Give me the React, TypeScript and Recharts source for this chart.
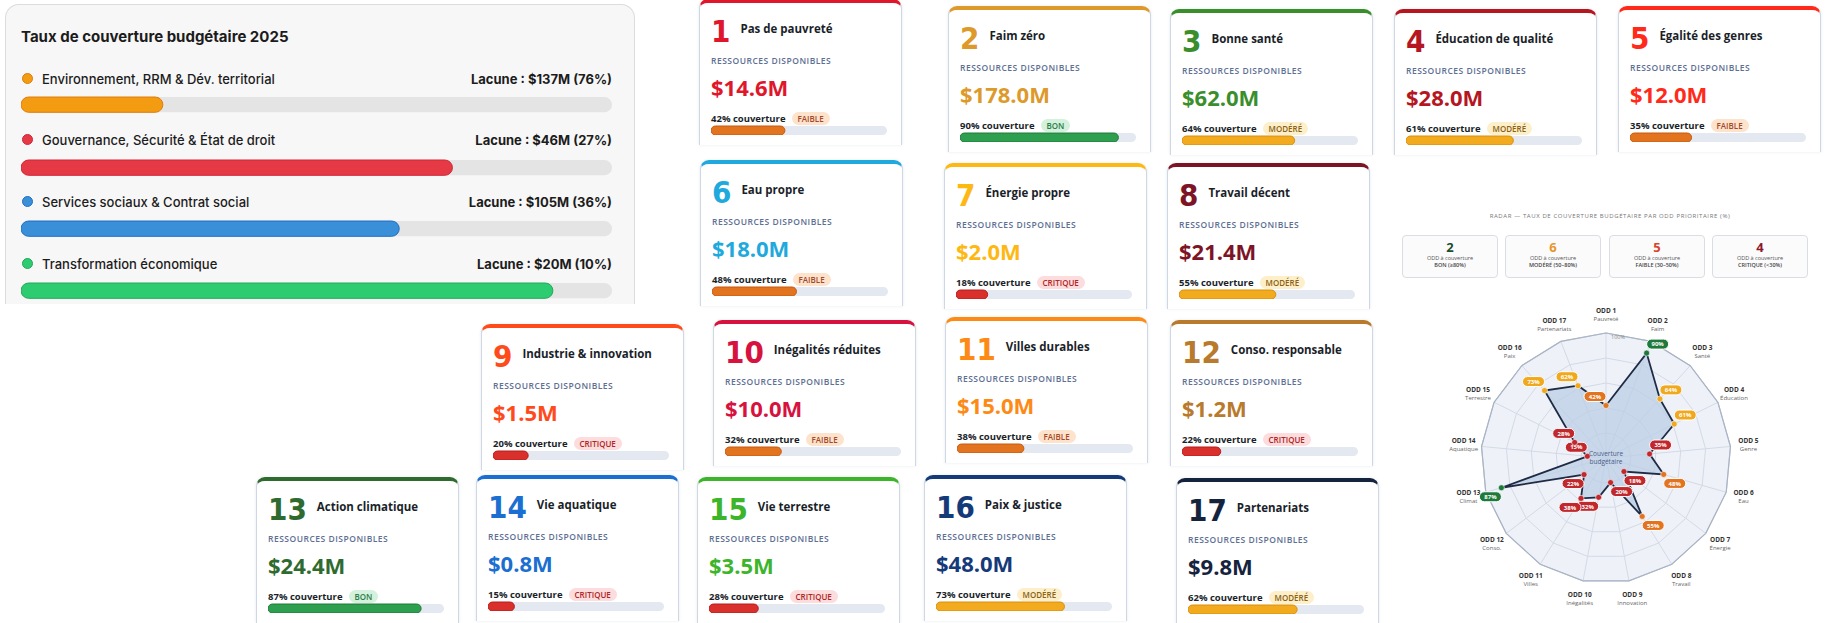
import React from 'react';
import { BarChart, Bar, XAxis, YAxis, RadarChart, Radar, PolarGrid, PolarAngleAxis, PolarRadiusAxis } from 'recharts';

// ---------- DATA ----------
const pillarNames = [
  'Environnement, RRM & Dév. territorial',
  'Gouvernance, Sécurité & État de droit',
  'Services sociaux & Contrat social',
  'Transformation économique',
];
const pillarGapLabels = ['Lacune : $137M (76%)', 'Lacune : $46M (27%)', 'Lacune : $105M (36%)', 'Lacune : $20M (10%)'];
const pillarCoverage = [24, 73, 64, 90];
const pillarColors = ['#f39c12', '#e63946', '#3a8fd9', '#2ecc71'];
const pillarStrokes = ['#e07b0a', '#cf2636', '#1f6fc2', '#1fa85a'];

const sdgNumbers = [1, 2, 3, 4, 5, 6, 7, 8, 9, 10, 11, 12, 13, 14, 15, 16, 17];
const sdgTitles = [
  'Pas de pauvreté', 'Faim zéro', 'Bonne santé', 'Éducation de qualité', 'Égalité des genres',
  'Eau propre', 'Énergie propre', 'Travail décent', 'Industrie & innovation', 'Inégalités réduites',
  'Villes durables', 'Conso. responsable', 'Action climatique', 'Vie aquatique', 'Vie terrestre',
  'Paix & justice', 'Partenariats',
];
const sdgShort = [
  'Pauvreté', 'Faim', 'Santé', 'Éducation', 'Genre', 'Eau', 'Énergie', 'Travail', 'Innovation',
  'Inégalités', 'Villes', 'Conso.', 'Climat', 'Aquatique', 'Terrestre', 'Paix', 'Partenariats',
];
const sdgResources = [
  '$14.6M', '$178.0M', '$62.0M', '$28.0M', '$12.0M', '$18.0M', '$2.0M', '$21.4M', '$1.5M',
  '$10.0M', '$15.0M', '$1.2M', '$24.4M', '$0.8M', '$3.5M', '$48.0M', '$9.8M',
];
const sdgCoverage = [42, 90, 64, 61, 35, 48, 18, 55, 20, 32, 38, 22, 87, 15, 28, 73, 62];
const sdgStatus = [
  'FAIBLE', 'BON', 'MODÉRÉ', 'MODÉRÉ', 'FAIBLE', 'FAIBLE', 'CRITIQUE', 'MODÉRÉ', 'CRITIQUE',
  'FAIBLE', 'FAIBLE', 'CRITIQUE', 'BON', 'CRITIQUE', 'CRITIQUE', 'MODÉRÉ', 'MODÉRÉ',
];
const sdgColors = [
  '#e0162b', '#dd9a2b', '#3a8f2c', '#b5161f', '#ff2a1a', '#1fa9dd', '#fdb813', '#7d1426', '#ff4a1c',
  '#d7123f', '#fd8a14', '#b87a2c', '#2f6b2f', '#1a6fd0', '#3db52b', '#153a7a', '#15233d',
];

const statCounts = ['2', '6', '5', '4'];
const statLabels = ['BON (≥80%)', 'MODÉRÉ (50–80%)', 'FAIBLE (30–50%)', 'CRITIQUE (<30%)'];
const statColors = ['#1d4d2b', '#e8962a', '#d9452b', '#8b1a2b'];

// ---------- LAYOUT / STYLES ----------
const cardLayout = [
  { x: 699, y: -1 }, { x: 948, y: 6 }, { x: 1170, y: 9 }, { x: 1394, y: 9 }, { x: 1618, y: 6 },
  { x: 700, y: 160 }, { x: 944, y: 163 }, { x: 1167, y: 163 },
  { x: 481, y: 324 }, { x: 713, y: 320 }, { x: 945, y: 317 }, { x: 1170, y: 320 },
  { x: 256, y: 477 }, { x: 476, y: 475 }, { x: 697, y: 477 }, { x: 924, y: 475 }, { x: 1176, y: 478 },
];
const CARD_W = 203;
const CARD_H = 146;

const statusStyle: Record<string, any> = {
  'BON': { bar: '#2e9e4f', stroke: '#1f7a3a', bg: '#d3f1dc', text: '#2d7d45' },
  'MODÉRÉ': { bar: '#f2aa1f', stroke: '#d98f0b', bg: '#fdefc9', text: '#8a6212' },
  'FAIBLE': { bar: '#e2731f', stroke: '#c65a12', bg: '#fde3cc', text: '#a4492a' },
  'CRITIQUE': { bar: '#d9302c', stroke: '#b71c1c', bg: '#fcdcdc', text: '#b02525' },
};

const radarColor = (v: number) => (v >= 80 ? '#1e7a3a' : v >= 60 ? '#f0a81c' : v >= 40 ? '#e2731f' : '#c0282d');

function Progress({ value, fill, stroke, track, width, height }: any) {
  const data = [{ v: value }];
  return (
    <BarChart width={width} height={height} data={data} layout="vertical" margin={{ top: 0, right: 0, bottom: 0, left: 0 }}>
      <XAxis type="number" domain={[0, 100]} hide />
      <YAxis type="category" hide />
      <Bar dataKey="v" fill={fill} stroke={stroke} strokeWidth={1} radius={height / 2} barSize={height}
        background={{ fill: track, radius: height / 2 }} isAnimationActive={false} />
    </BarChart>
  );
}

function SdgCard({ i }: { i: number }) {
  const L = cardLayout[i];
  const color = sdgColors[i];
  const st = statusStyle[sdgStatus[i]];
  return (
    <div style={{
      position: 'absolute', left: L.x, top: L.y, width: CARD_W, height: CARD_H, background: '#fff',
      border: '1px solid #cfd6e4', borderBottom: 'none', borderTop: `4px solid ${color}`,
      borderRadius: '9px 9px 0 0', boxSizing: 'border-box', overflow: 'hidden',
      fontFamily: '"Open Sans", sans-serif', boxShadow: '0 0 3px rgba(80,100,140,0.15)',
    }}>
      <div style={{ position: 'absolute', left: 11, top: 12, height: 32, display: 'flex', alignItems: 'center' }}>
        <span style={{ fontFamily: '"Liberation Sans Narrow", "DejaVu Sans Condensed", "Roboto Condensed", sans-serif', fontWeight: 700, fontSize: 31, lineHeight: '32px', color }}>{sdgNumbers[i]}</span>
        <span style={{ marginLeft: 10, marginTop: -5, fontWeight: 700, fontSize: 11.5, color: '#1b1f2a' }}>{sdgTitles[i]}</span>
      </div>
      <div style={{ position: 'absolute', left: 11, top: 53, fontSize: 8.5, lineHeight: '10px', fontWeight: 600, letterSpacing: 0.5, color: '#5d6f93' }}>RESSOURCES DISPONIBLES</div>
      <div style={{ position: 'absolute', left: 11, top: 71, fontSize: 22, lineHeight: '26px', fontWeight: 700, color }}>{sdgResources[i]}</div>
      <div style={{ position: 'absolute', left: 11, top: 108, height: 14, display: 'flex', alignItems: 'center' }}>
        <span style={{ fontSize: 9.5, fontWeight: 700, color: '#1b1f2a' }}>{sdgCoverage[i]}% couverture</span>
        <span style={{ marginLeft: 6, fontSize: 8, fontWeight: 600, color: st.text, background: st.bg, borderRadius: 7, padding: '0 6px', lineHeight: '13px' }}>{sdgStatus[i]}</span>
      </div>
      <div style={{ position: 'absolute', left: 11, top: 122 }}>
        <Progress value={sdgCoverage[i]} fill={st.bar} stroke={st.stroke} track="#e3e8f1" width={CARD_W - 27} height={10} />
      </div>
    </div>
  );
}

const CX = 206;
const CY = 168;
const R = 125;

const AngleTick = (props: any) => {
  const { x, y, payload, index } = props;
  const dx = x - CX;
  const dy = y - CY;
  const d = Math.hypot(dx, dy) || 1;
  const tx = CX + (dx / d) * (R + 18);
  const ty = CY + (dy / d) * (R + 18);
  const idx = typeof index === 'number' ? index : radarData.findIndex((r) => r.axis === payload.value);
  return (
    <g>
      <text x={tx} y={ty - 2} textAnchor="middle" fontSize={6.5} fontWeight={700} fill="#333" fontFamily='"Open Sans", sans-serif'>{payload.value}</text>
      <text x={tx} y={ty + 6} textAnchor="middle" fontSize={6} fill="#666" fontFamily='"Open Sans", sans-serif'>{sdgShort[idx]}</text>
    </g>
  );
};

const RadiusTick = (props: any) => {
  const { x, y, payload } = props;
  if (payload.value !== 100) return <g />;
  return <text x={x + 12} y={y + 6} textAnchor="middle" fontSize={5.5} fill="#888" fontFamily='"Open Sans", sans-serif'>100%</text>;
};

const renderDot = (props: any) => {
  const { cx, cy } = props;
  const v = props.value ?? props.payload?.value;
  const c = radarColor(v);
  const dx = cx - CX;
  const dy = cy - CY;
  const sx = dx > 2 ? 1 : -1;
  const sy = dy < 0 ? -1 : 1;
  const bx = cx + sx * 11;
  const by = cy + sy * 9;
  return (
    <g key={props.key}>
      <circle cx={cx} cy={cy} r={3} fill={c} stroke="#fff" strokeWidth={0.6} />
      <rect x={bx - 11} y={by - 5} width={22} height={10} rx={5} fill={c} stroke="#fff" strokeWidth={1} />
      <text x={bx} y={by + 2.2} textAnchor="middle" fontSize={6} fontWeight={700} fill="#fff" fontFamily='"Open Sans", sans-serif'>{v}%</text>
    </g>
  );
};

const radarData = sdgNumbers.map((n, i) => ({ axis: `ODD ${n}`, value: sdgCoverage[i] }));

export default function App() {
  return (
    <div style={{ position: 'absolute', left: 0, top: 0, width: 1839, height: 623, overflow: 'hidden', background: '#fff' }}>
      {/* Left panel */}
      <div style={{
        position: 'absolute', left: 5, top: 4, width: 630, height: 300, background: '#f7f7f7',
        border: '1px solid #dcdcdc', borderBottom: 'none', borderRadius: '14px 14px 0 0', boxSizing: 'border-box',
        fontFamily: 'Inter, "Open Sans", sans-serif', overflow: 'hidden',
      }}>
        <div style={{ position: 'absolute', left: 15, top: 22, fontSize: 15, lineHeight: '20px', fontWeight: 700, color: '#1c1c1c' }}>Taux de couverture budgétaire 2025</div>
        {pillarNames.map((name, i) => {
          const labelY = [79, 140, 202, 264][i] - 5;
          const barY = [104, 167, 228, 290][i] - 5;
          return (
            <React.Fragment key={name}>
              <div style={{ position: 'absolute', left: 16, top: labelY - 6, width: 9, height: 9, borderRadius: '50%', background: pillarColors[i], border: `1.5px solid ${pillarStrokes[i]}` }} />
              <div style={{ position: 'absolute', left: 36, top: labelY - 9, fontSize: 13, lineHeight: '18px', fontWeight: 500, color: '#1c1c1c' }}>{name}</div>
              <div style={{ position: 'absolute', right: 22, top: labelY - 9, fontSize: 13, lineHeight: '18px', fontWeight: 700, color: '#1c1c1c' }}>{pillarGapLabels[i]}</div>
              <div style={{ position: 'absolute', left: 15, top: barY - 8.5 }}>
                <Progress value={pillarCoverage[i]} fill={pillarColors[i]} stroke={pillarStrokes[i]} track="#e4e4e4" width={591} height={17} />
              </div>
            </React.Fragment>
          );
        })}
      </div>

      {sdgNumbers.map((n, i) => <SdgCard key={n} i={i} />)}

      {/* Radar panel */}
      <div style={{ position: 'absolute', left: 1400, top: 212, width: 420, textAlign: 'center', fontFamily: '"Open Sans", sans-serif', fontSize: 6, letterSpacing: 0.6, color: '#777' }}>
        RADAR — TAUX DE COUVERTURE BUDGÉTAIRE PAR ODD PRIORITAIRE (%)
      </div>
      {statCounts.map((c, i) => (
        <div key={i} style={{
          position: 'absolute', left: [1402, 1505, 1609, 1712][i], top: 235, width: 96, height: 43,
          border: '1px solid #dadde3', borderRadius: 4, background: '#fbfbfc', boxSizing: 'border-box',
          textAlign: 'center', fontFamily: '"Open Sans", sans-serif',
        }}>
          <div style={{ marginTop: 4, fontSize: 13, lineHeight: '15px', fontWeight: 700, color: statColors[i] }}>{c}</div>
          <div style={{ fontSize: 5.5, lineHeight: '7px', color: '#555' }}>ODD à couverture</div>
          <div style={{ fontSize: 5.5, lineHeight: '7px', color: '#444', fontWeight: 600 }}>{statLabels[i]}</div>
        </div>
      ))}
      <div style={{ position: 'absolute', left: 1400, top: 290 }}>
        <RadarChart width={439} height={333} cx={CX} cy={CY} outerRadius={R} data={radarData} startAngle={90} endAngle={-270} margin={{ top: 0, right: 0, bottom: 0, left: 0 }}>
          <PolarGrid gridType="polygon" stroke="#d3dae6" fill="#eef2f8" fillOpacity={1} />
          <PolarAngleAxis dataKey="axis" tick={AngleTick} tickLine={false} axisLine={{ stroke: '#a9b3c4', strokeWidth: 1.2 }} />
          <PolarRadiusAxis domain={[0, 100]} angle={90} tickCount={6} axisLine={false} tick={RadiusTick} />
          <Radar dataKey="value" stroke="#1f2b45" strokeWidth={1.8} fill="#bccde6" fillOpacity={0.75} dot={renderDot} isAnimationActive={false} />
        </RadarChart>
      </div>
      <div style={{ position: 'absolute', left: 1566, top: 450, width: 80, textAlign: 'center', fontFamily: '"Open Sans", sans-serif', fontSize: 6.5, lineHeight: '8px', color: '#4a5d86' }}>
        Couverture<br />budgétaire
      </div>
    </div>
  );
}
